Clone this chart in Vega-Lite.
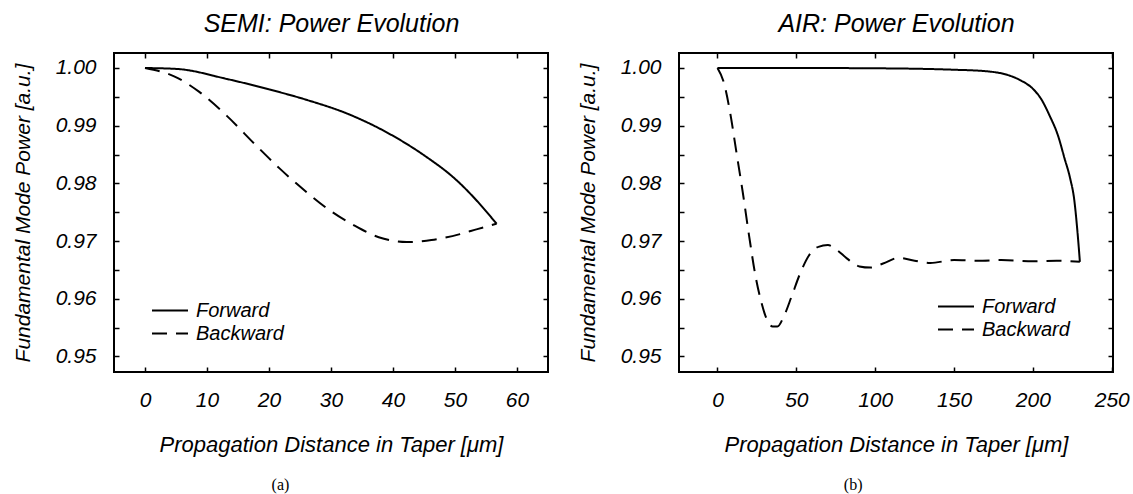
{
  "$schema": "https://vega.github.io/schema/vega-lite/v6.json",
  "padding": {"left": 11, "top": 10, "right": 0, "bottom": 0},
  "background": "white",
  "datasets": {
    "semi": [
      {"x": 0, "power": 1.0, "series": "Forward"},
      {"x": 5.2, "power": 0.99983, "series": "Forward"},
      {"x": 13.2, "power": 0.9981, "series": "Forward"},
      {"x": 20, "power": 0.9963, "series": "Forward"},
      {"x": 26.3, "power": 0.9944, "series": "Forward"},
      {"x": 32.6, "power": 0.9921, "series": "Forward"},
      {"x": 39.4, "power": 0.9886, "series": "Forward"},
      {"x": 45.1, "power": 0.9848, "series": "Forward"},
      {"x": 50.2, "power": 0.9806, "series": "Forward"},
      {"x": 53.6, "power": 0.9769, "series": "Forward"},
      {"x": 56.7, "power": 0.973, "series": "Forward"},
      {"x": 0, "power": 1.0, "series": "Backward"},
      {"x": 4.7, "power": 0.99856, "series": "Backward"},
      {"x": 8.7, "power": 0.9959, "series": "Backward"},
      {"x": 13.2, "power": 0.9917, "series": "Backward"},
      {"x": 17.8, "power": 0.9867, "series": "Backward"},
      {"x": 21.7, "power": 0.9826, "series": "Backward"},
      {"x": 25.7, "power": 0.9788, "series": "Backward"},
      {"x": 29.7, "power": 0.9754, "series": "Backward"},
      {"x": 33.7, "power": 0.97273, "series": "Backward"},
      {"x": 37.7, "power": 0.97067, "series": "Backward"},
      {"x": 42.2, "power": 0.96983, "series": "Backward"},
      {"x": 46.2, "power": 0.97017, "series": "Backward"},
      {"x": 50.8, "power": 0.9712, "series": "Backward"},
      {"x": 53.6, "power": 0.97207, "series": "Backward"},
      {"x": 56.7, "power": 0.973, "series": "Backward"}
    ],
    "air": [
      {"x": 0, "power": 1.0, "series": "Forward"},
      {"x": 50, "power": 1.0, "series": "Forward"},
      {"x": 100, "power": 0.99995, "series": "Forward"},
      {"x": 150, "power": 0.9997, "series": "Forward"},
      {"x": 170, "power": 0.99945, "series": "Forward"},
      {"x": 185, "power": 0.9987, "series": "Forward"},
      {"x": 192.6, "power": 0.9978, "series": "Forward"},
      {"x": 200, "power": 0.9964, "series": "Forward"},
      {"x": 205.3, "power": 0.9946, "series": "Forward"},
      {"x": 210.5, "power": 0.9918, "series": "Forward"},
      {"x": 215.9, "power": 0.9883, "series": "Forward"},
      {"x": 220.1, "power": 0.9843, "series": "Forward"},
      {"x": 223.5, "power": 0.9810, "series": "Forward"},
      {"x": 226.3, "power": 0.9770, "series": "Forward"},
      {"x": 228.3, "power": 0.9715, "series": "Forward"},
      {"x": 229.8, "power": 0.9664, "series": "Forward"},
      {"x": 0, "power": 1.0, "series": "Backward"},
      {"x": 4, "power": 0.9975, "series": "Backward"},
      {"x": 8, "power": 0.9923, "series": "Backward"},
      {"x": 12, "power": 0.9854, "series": "Backward"},
      {"x": 16, "power": 0.9785, "series": "Backward"},
      {"x": 20, "power": 0.971, "series": "Backward"},
      {"x": 24, "power": 0.9641, "series": "Backward"},
      {"x": 28, "power": 0.9592, "series": "Backward"},
      {"x": 31, "power": 0.9566, "series": "Backward"},
      {"x": 35, "power": 0.9552, "series": "Backward"},
      {"x": 38, "power": 0.9552, "series": "Backward"},
      {"x": 42, "power": 0.9569, "series": "Backward"},
      {"x": 47, "power": 0.9604, "series": "Backward"},
      {"x": 52, "power": 0.9641, "series": "Backward"},
      {"x": 58, "power": 0.9675, "series": "Backward"},
      {"x": 64, "power": 0.969, "series": "Backward"},
      {"x": 70, "power": 0.9693, "series": "Backward"},
      {"x": 76, "power": 0.9684, "series": "Backward"},
      {"x": 82, "power": 0.967, "series": "Backward"},
      {"x": 90, "power": 0.9656, "series": "Backward"},
      {"x": 97, "power": 0.9654, "series": "Backward"},
      {"x": 105, "power": 0.9661, "series": "Backward"},
      {"x": 115, "power": 0.9671, "series": "Backward"},
      {"x": 125, "power": 0.9666, "series": "Backward"},
      {"x": 135, "power": 0.9662, "series": "Backward"},
      {"x": 150, "power": 0.9667, "series": "Backward"},
      {"x": 165, "power": 0.9666, "series": "Backward"},
      {"x": 180, "power": 0.9667, "series": "Backward"},
      {"x": 200, "power": 0.9665, "series": "Backward"},
      {"x": 215, "power": 0.9666, "series": "Backward"},
      {"x": 229.8, "power": 0.9664, "series": "Backward"}
    ]
  },
  "config": {
    "font": "Liberation Sans",
    "view": {"stroke": "black", "strokeWidth": 2},
    "axis": {
      "domain": false, "grid": false,
      "tickColor": "black", "tickWidth": 1.5, "tickSize": -5,
      "labelFont": "Liberation Sans", "labelFontSize": 21, "labelFontStyle": "italic", "labelColor": "black",
      "titleFont": "Liberation Sans", "titleFontSize": 21, "titleFontStyle": "italic", "titleFontWeight": "normal", "titleColor": "black"
    },
    "legend": {
      "symbolType": "stroke", "symbolSize": 1296, "symbolStrokeWidth": 2, "symbolStrokeColor": "black",
      "labelFont": "Liberation Sans", "labelFontSize": 20, "labelFontStyle": "italic", "labelColor": "black",
      "labelOffset": 7, "padding": 0, "rowPadding": 0, "clipHeight": 23
    }
  },
  "spacing": 26,
  "resolve": {"scale": {"strokeDash": "independent"}, "legend": {"strokeDash": "independent"}},
  "hconcat": [
    {
      "width": 434, "height": 319,
      "title": {"text": "(a)", "orient": "bottom", "font": "Liberation Serif", "fontSize": 16, "fontStyle": "normal", "fontWeight": "normal", "color": "black", "frame": "bounds", "anchor": "middle", "offset": 22},
      "data": {"name": "semi"},
      "layer": [
        {
          "mark": {"type": "line", "color": "black", "strokeWidth": 2, "interpolate": "monotone"},
          "encoding": {
            "x": {"field": "x", "type": "quantitative", "scale": {"domain": [-5, 65], "nice": false, "zero": false},
                  "axis": {"orient": "bottom", "values": [0, 10, 20, 30, 40, 50, 60], "labelPadding": 22, "title": "Propagation Distance in Taper [μm]", "titleFontSize": 22, "titlePadding": 24}},
            "y": {"field": "power", "type": "quantitative", "scale": {"domain": [0.9473, 1.0026], "nice": false, "zero": false},
                  "axis": {"orient": "left", "values": [0.95, 0.955, 0.96, 0.965, 0.97, 0.975, 0.98, 0.985, 0.99, 0.995, 1.0],
                           "labelExpr": "round(datum.value*1000) % 10 == 0 ? format(datum.value, '.2f') : ''",
                           "labelPadding": 23, "title": "Fundamental Mode Power [a.u.]", "titlePadding": 22}},
            "strokeDash": {"field": "series", "type": "nominal",
                           "scale": {"domain": ["Forward", "Backward"], "range": [[1, 0], [15, 9]]},
                           "legend": {"title": null, "orient": "none", "legendX": 37, "legendY": 246}}
          }
        },
        {
          "mark": {"type": "line", "opacity": 0},
          "encoding": {
            "x": {"field": "x", "type": "quantitative",
                  "axis": {"orient": "top", "values": [0, 10, 20, 30, 40, 50, 60], "labels": false, "title": "SEMI: Power Evolution", "titleFontSize": 25, "titlePadding": 16}},
            "y": {"field": "power", "type": "quantitative",
                  "axis": {"orient": "right", "values": [0.95, 0.955, 0.96, 0.965, 0.97, 0.975, 0.98, 0.985, 0.99, 0.995, 1.0], "labels": false, "title": null}},
            "detail": {"field": "series"}
          }
        }
      ],
      "resolve": {"axis": {"x": "independent", "y": "independent"}}
    },
    {
      "width": 434, "height": 319,
      "title": {"text": "(b)", "orient": "bottom", "font": "Liberation Serif", "fontSize": 16, "fontStyle": "normal", "fontWeight": "normal", "color": "black", "frame": "bounds", "anchor": "middle", "offset": 22},
      "data": {"name": "air"},
      "layer": [
        {
          "mark": {"type": "line", "color": "black", "strokeWidth": 2, "interpolate": "monotone"},
          "encoding": {
            "x": {"field": "x", "type": "quantitative", "scale": {"domain": [-24.4, 250.8], "nice": false, "zero": false},
                  "axis": {"orient": "bottom", "values": [0, 50, 100, 150, 200, 250], "labelPadding": 22, "title": "Propagation Distance in Taper [μm]", "titleFontSize": 22, "titlePadding": 24}},
            "y": {"field": "power", "type": "quantitative", "scale": {"domain": [0.9473, 1.0026], "nice": false, "zero": false},
                  "axis": {"orient": "left", "values": [0.95, 0.955, 0.96, 0.965, 0.97, 0.975, 0.98, 0.985, 0.99, 0.995, 1.0],
                           "labelExpr": "round(datum.value*1000) % 10 == 0 ? format(datum.value, '.2f') : ''",
                           "labelPadding": 23, "title": "Fundamental Mode Power [a.u.]", "titlePadding": 22}},
            "strokeDash": {"field": "series", "type": "nominal",
                           "scale": {"domain": ["Forward", "Backward"], "range": [[1, 0], [15, 9]]},
                           "legend": {"title": null, "orient": "none", "legendX": 258, "legendY": 242}}
          }
        },
        {
          "mark": {"type": "line", "opacity": 0},
          "encoding": {
            "x": {"field": "x", "type": "quantitative",
                  "axis": {"orient": "top", "values": [0, 50, 100, 150, 200, 250], "labels": false, "title": "AIR: Power Evolution", "titleFontSize": 25, "titlePadding": 16}},
            "y": {"field": "power", "type": "quantitative",
                  "axis": {"orient": "right", "values": [0.95, 0.955, 0.96, 0.965, 0.97, 0.975, 0.98, 0.985, 0.99, 0.995, 1.0], "labels": false, "title": null}},
            "detail": {"field": "series"}
          }
        }
      ],
      "resolve": {"axis": {"x": "independent", "y": "independent"}}
    }
  ]
}
